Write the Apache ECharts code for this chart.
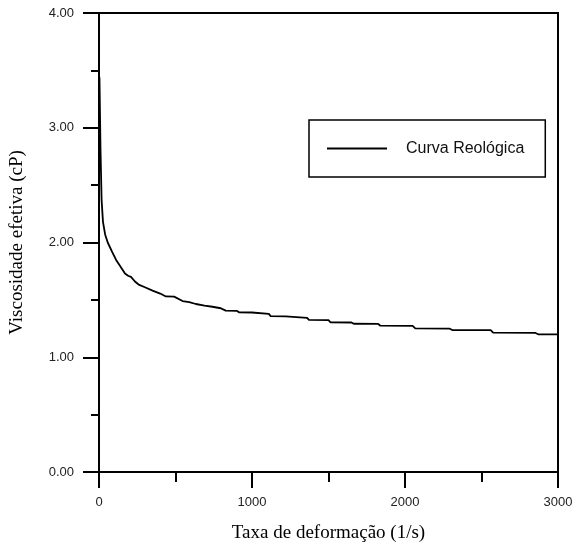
<!DOCTYPE html>
<html>
<head>
<meta charset="utf-8">
<script src="https://cdn.jsdelivr.net/npm/echarts@6/dist/echarts.min.js"></script>
<style>html,body{margin:0;padding:0;background:#fff}#c{width:577px;height:548px}</style>
</head>
<body>
<div id="c"></div>
<script>
const shearRate = [3, 10, 17, 26, 40, 57, 85, 111, 140, 170, 190, 209, 235, 263, 300, 350, 400, 437, 491, 546, 590, 633, 690, 741, 796, 828, 900, 915, 1000, 1013, 1110, 1122, 1220, 1231, 1360, 1372, 1500, 1513, 1650, 1665, 1825, 1839, 2050, 2067, 2290, 2309, 2560, 2576, 2850, 2870, 3000];
const viscosity = [3.44, 2.80, 2.37, 2.18, 2.07, 2.00, 1.92, 1.85, 1.79, 1.73, 1.71, 1.70, 1.66, 1.63, 1.61, 1.58, 1.555, 1.53, 1.528, 1.49, 1.48, 1.464, 1.45, 1.44, 1.427, 1.406, 1.405, 1.392, 1.39, 1.38, 1.378, 1.359, 1.357, 1.345, 1.343, 1.325, 1.323, 1.305, 1.303, 1.292, 1.29, 1.275, 1.273, 1.252, 1.25, 1.237, 1.236, 1.214, 1.213, 1.200, 1.200];
const seriesName = 'Curva Reológica';
const xTitle = 'Taxa de deformação (1/s)';
const yTitle = 'Viscosidade efetiva (cP)';

const chart = echarts.init(document.getElementById('c'), null, {renderer: 'canvas'});
const axisLineStyle = {color: '#000', width: 2};
const sans = '"Liberation Sans", Arial, sans-serif';
const serif = '"Liberation Serif", "Times New Roman", serif';
chart.setOption({
  animation: false,
  backgroundColor: '#fff',
  grid: {left: 98, right: 19, top: 13, bottom: 76, containLabel: false},
  legend: {
    left: 309, top: 120,
    data: [{name: seriesName, icon: 'rect'}],
    borderColor: '#000', borderWidth: 1.5, borderRadius: 0,
    padding: [19, 21, 19, 18],
    itemWidth: 60, itemHeight: 2,
    itemStyle: {color: '#000'},
    textStyle: {fontFamily: sans, fontSize: 16, color: '#111', padding: [0, 0, 0, 14], lineHeight: 19}
  },
  xAxis: [{
    type: 'value', min: 0, max: 3000, interval: 1000,
    name: xTitle, nameLocation: 'middle', nameGap: 52,
    nameTextStyle: {fontFamily: serif, fontSize: 19, color: '#000'},
    axisLine: {show: true, onZero: false, lineStyle: axisLineStyle},
    axisTick: {show: true, inside: false, length: 16, lineStyle: axisLineStyle},
    minorTick: {show: true, splitNumber: 2, length: 10, lineStyle: axisLineStyle},
    axisLabel: {fontFamily: sans, fontSize: 13, color: '#222', margin: 24,
      formatter: v => String(v)},
    splitLine: {show: false}
  }, {
    type: 'value', min: 0, max: 3000, position: 'top',
    axisLine: {show: true, onZero: false, lineStyle: axisLineStyle},
    axisTick: {show: false}, axisLabel: {show: false}, splitLine: {show: false}
  }],
  yAxis: [{
    type: 'value', min: 0, max: 4, interval: 1,
    name: yTitle, nameLocation: 'middle', nameGap: 72,
    nameTextStyle: {fontFamily: serif, fontSize: 19, color: '#000'},
    axisLine: {show: true, onZero: false, lineStyle: axisLineStyle},
    axisTick: {show: true, inside: false, length: 16, lineStyle: axisLineStyle},
    minorTick: {show: true, splitNumber: 2, length: 8, lineStyle: axisLineStyle},
    axisLabel: {fontFamily: sans, fontSize: 13, color: '#222', margin: 25,
      formatter: v => v.toFixed(2)},
    splitLine: {show: false}
  }, {
    type: 'value', min: 0, max: 4, position: 'right',
    axisLine: {show: true, onZero: false, lineStyle: axisLineStyle},
    axisTick: {show: false}, axisLabel: {show: false}, splitLine: {show: false}
  }],
  series: [{
    name: seriesName, type: 'line', symbol: 'none',
    data: shearRate.map((x, i) => [x, viscosity[i]]),
    lineStyle: {color: '#000', width: 1.8},
    itemStyle: {color: '#000'}
  }]
});
</script>
</body>
</html>
